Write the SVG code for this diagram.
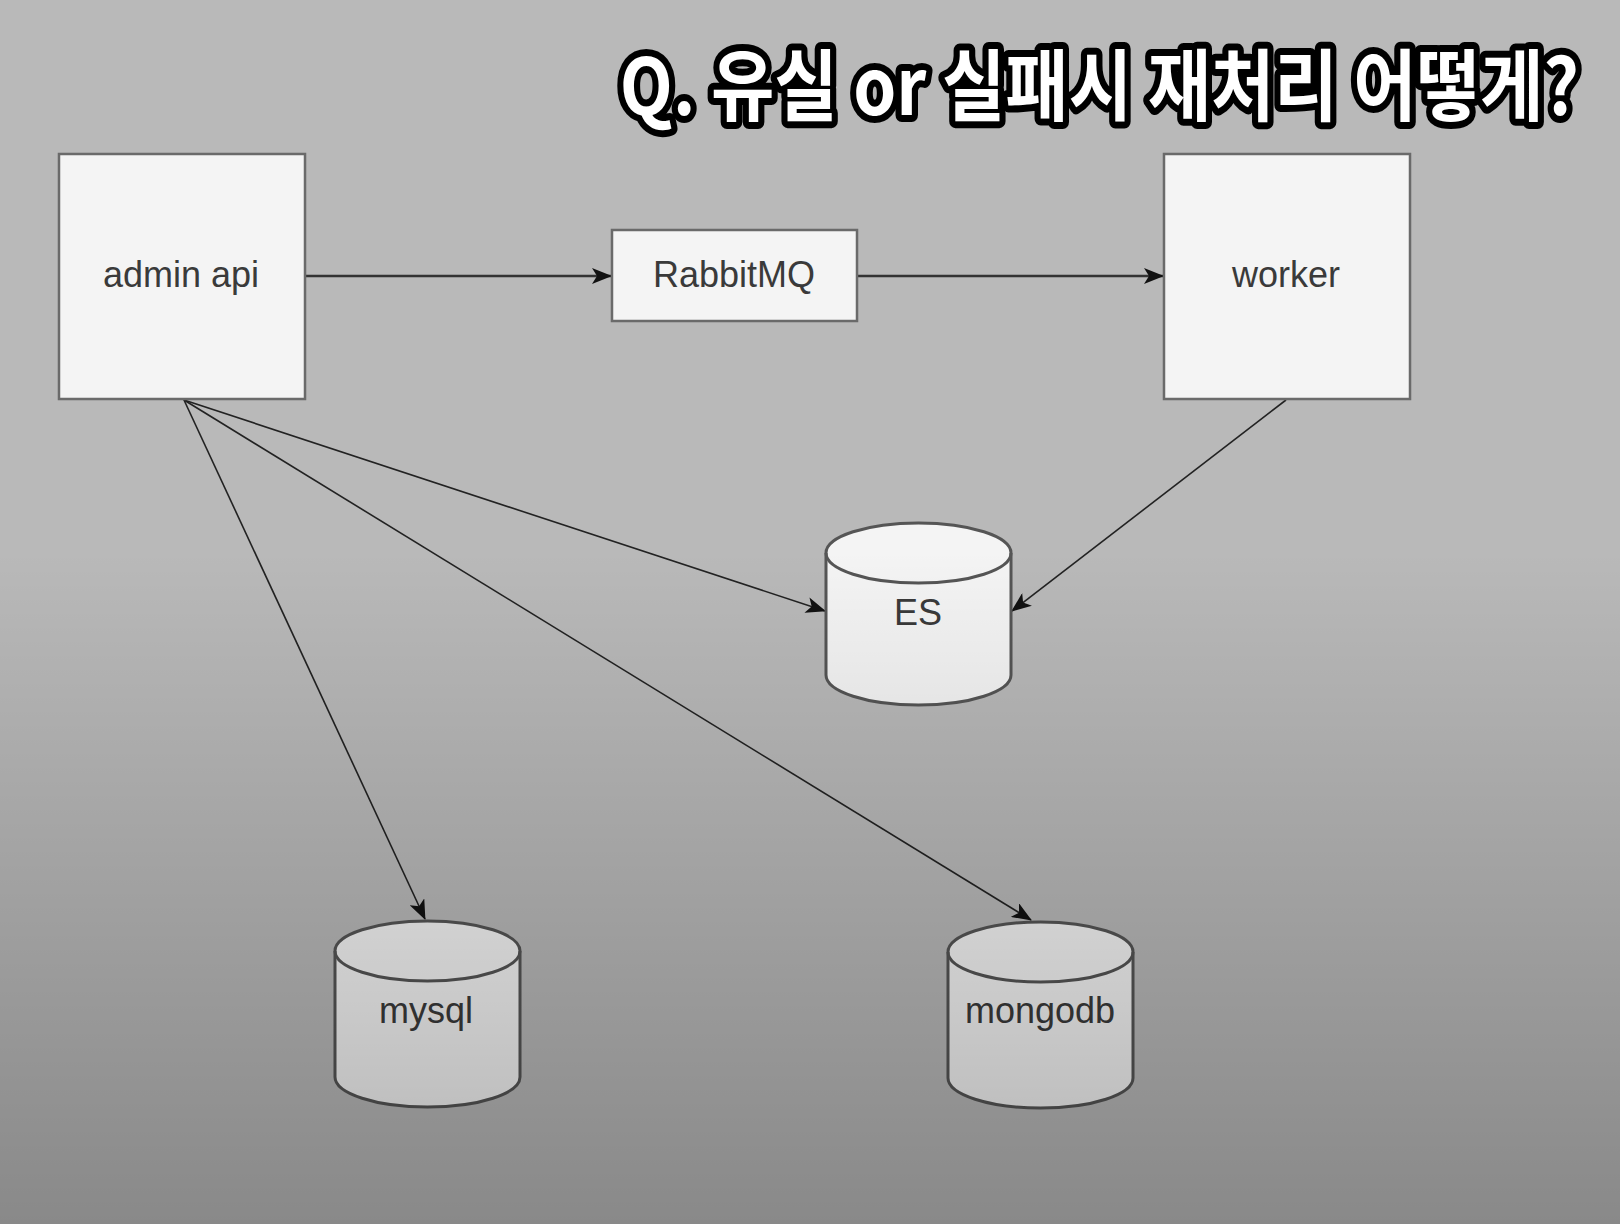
<svg xmlns="http://www.w3.org/2000/svg" width="1620" height="1224" viewBox="0 0 1620 1224">
<defs>
<linearGradient id="shade" x1="0" y1="0" x2="0" y2="1">
<stop offset="0" stop-color="#000" stop-opacity="0"/>
<stop offset="0.45" stop-color="#000" stop-opacity="0"/>
<stop offset="1" stop-color="#000" stop-opacity="0.26"/>
</linearGradient>
<marker id="arr" markerUnits="userSpaceOnUse" markerWidth="20" markerHeight="16" viewBox="0 0 20 16" refX="19" refY="8" orient="auto">
<path d="M0,0 L20,8 L0,16 L5,8 z" fill="#111"/>
</marker>
<style>
.box{fill:#f4f4f4;stroke:#6a6a6a;stroke-width:2.5}
.cyl{fill:#f4f4f4;stroke:#555;stroke-width:3}
.rim{fill:none;stroke:#555;stroke-width:3}
.lbl{font-family:"Liberation Sans",Arial,sans-serif;font-size:36px;fill:#3a3a3a;text-anchor:middle}
.edge{fill:none;stroke:#222;stroke-width:1.6;marker-end:url(#arr)}
.edgeh{fill:none;stroke:#333;stroke-width:2.4;marker-end:url(#arr)}
.title{font-family:"Noto Sans CJK KR","Noto Sans",sans-serif;font-weight:700;font-size:78px;fill:#fff;stroke:#000;stroke-width:14;stroke-linejoin:round;paint-order:stroke}
</style>
</defs>
<rect x="0" y="0" width="1620" height="1224" fill="#b9b9b9"/>
<g id="connectors">
<line class="edgeh" x1="305" y1="276" x2="611" y2="276"/>
<line class="edgeh" x1="857" y1="276" x2="1163" y2="276"/>
<line class="edge" x1="184" y1="400" x2="825" y2="611"/>
<line class="edge" x1="1286" y1="400" x2="1012" y2="611"/>
<line class="edge" x1="184" y1="400" x2="425" y2="919"/>
<line class="edge" x1="184" y1="400" x2="1031" y2="920"/>
</g>
<g id="admin-api">
<rect class="box" x="59" y="154" width="246" height="245"/>
<text class="lbl" x="181" y="287">admin api</text>
</g>
<g id="rabbitmq">
<rect class="box" x="612" y="230" width="245" height="91"/>
<text class="lbl" x="734" y="287">RabbitMQ</text>
</g>
<g id="worker">
<rect class="box" x="1164" y="154" width="246" height="245"/>
<text class="lbl" x="1286" y="287">worker</text>
</g>
<g id="es">
<path class="cyl" d="M826,553 a92.5,30 0 0 1 185,0 v122 a92.5,30 0 0 1 -185,0 z"/>
<path class="rim" d="M826,553 a92.5,30 0 0 0 185,0"/>
<text class="lbl" x="918" y="625">ES</text>
</g>
<g id="mysql">
<path class="cyl" d="M335,951 a92.5,30 0 0 1 185,0 v126 a92.5,30 0 0 1 -185,0 z"/>
<path class="rim" d="M335,951 a92.5,30 0 0 0 185,0"/>
<text class="lbl" x="426" y="1023">mysql</text>
</g>
<g id="mongodb">
<path class="cyl" d="M948,952 a92.5,30 0 0 1 185,0 v126 a92.5,30 0 0 1 -185,0 z"/>
<path class="rim" d="M948,952 a92.5,30 0 0 0 185,0"/>
<text class="lbl" x="1040" y="1023">mongodb</text>
</g>
<rect x="0" y="0" width="1620" height="1224" fill="url(#shade)"/>
<g id="title" transform="scale(0.883,1)">
<text class="title" x="702" y="115">Q. 유실 or 실패시 재처리 어떻게?</text>
</g>
</svg>
